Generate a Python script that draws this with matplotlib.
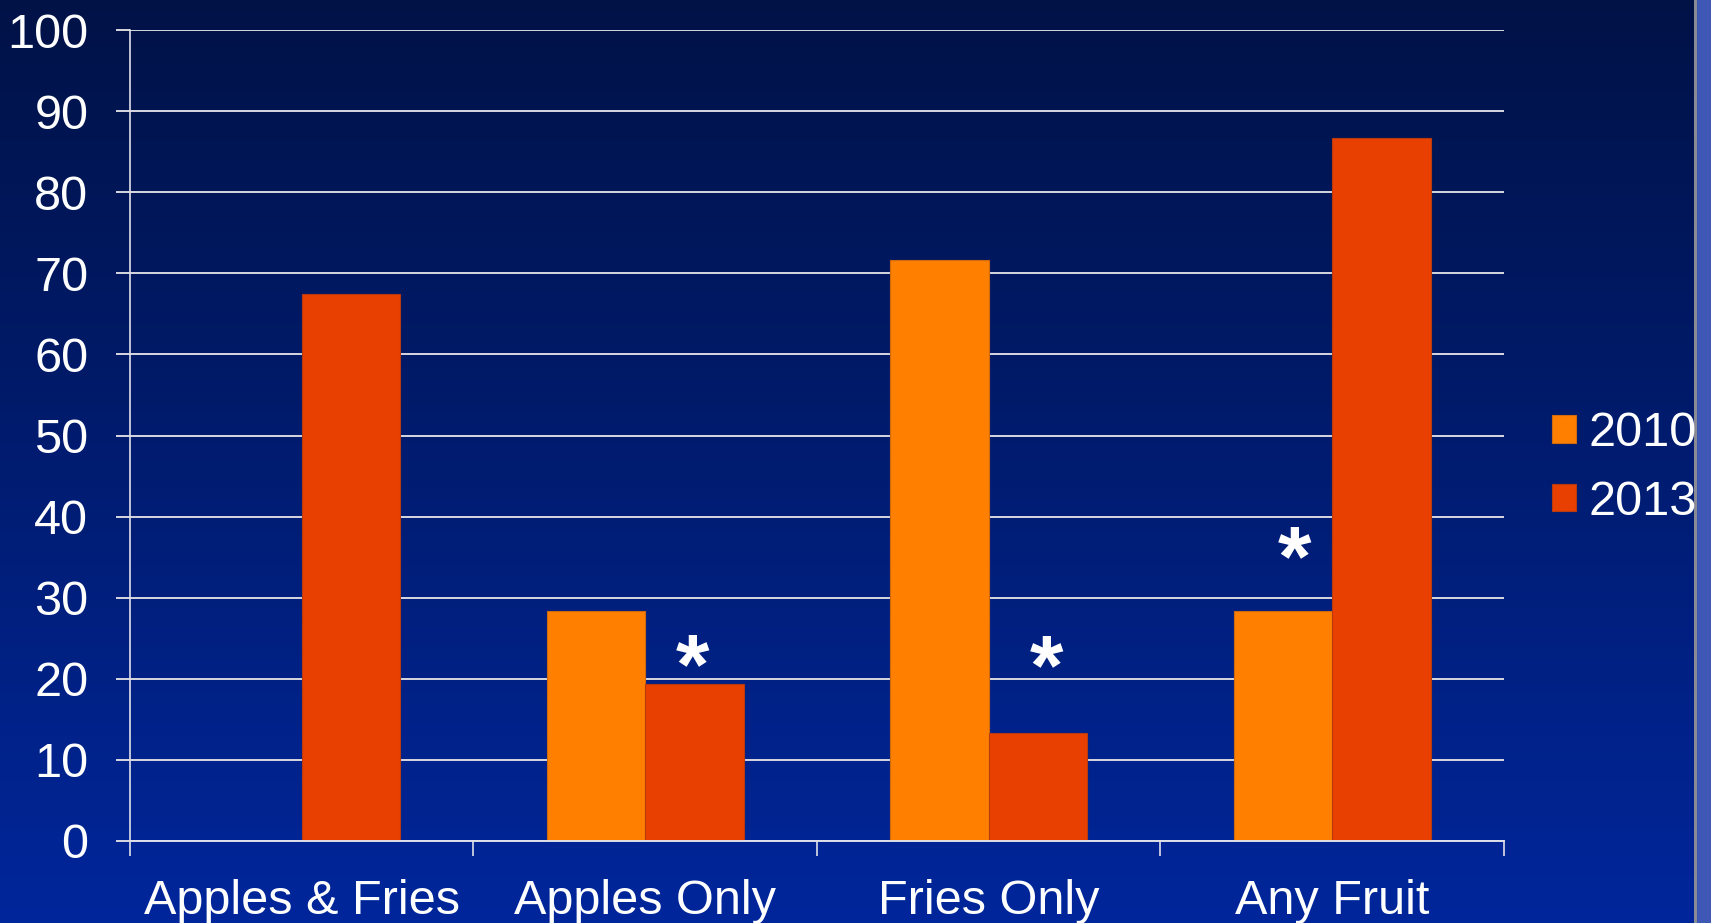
import matplotlib
matplotlib.use('Agg')
import matplotlib.pyplot as plt
from matplotlib.patches import Rectangle
import numpy as np

plt.rcParams['font.family'] = ['Liberation Sans', 'DejaVu Sans']

# Datos del gráfico
categorias = ['Apples & Fries', 'Apples Only', 'Fries Only', 'Any Fruit']
valores_2010 = [0, 28.3, 71.6, 28.4]
valores_2013 = [67.4, 19.3, 13.3, 86.7]
anios = ['2010', '2013']
marcas_y = [0, 10, 20, 30, 40, 50, 60, 70, 80, 90, 100]

# Asteriscos de significancia: (posición x en unidades de categoría, altura del centro)
asteriscos_x = [1.639, 2.667, 3.389]
asteriscos_y = [21.0, 20.8, 34.3]

color_2010 = '#FF8000'
color_2013 = '#E84000'
ancho = 0.2865

W, H = 1711, 923
fig = plt.figure(figsize=(W / 100, H / 100), dpi=100)

# Fondo con degradado azul
fondo = fig.add_axes([0, 0, 1, 1], zorder=-10)
grad = np.linspace(0, 1, 256)[:, None]
c_sup = np.array([0, 18, 70]) / 255
c_inf = np.array([0, 38, 155]) / 255
img = c_sup[None, None, :] * (1 - grad[:, :, None]) + c_inf[None, None, :] * grad[:, :, None]
fondo.imshow(img, aspect='auto', extent=[0, 1, 0, 1], origin='upper')
# franja lateral derecha
fondo.add_patch(Rectangle((1694 / W, 0), 3 / W, 1, color='#8a8a95', lw=0))
fondo.add_patch(Rectangle((1697 / W, 0), 14 / W, 1, color='#3f58b6', lw=0))
fondo.set_xlim(0, 1)
fondo.set_ylim(0, 1)
fondo.axis('off')

ax = fig.add_axes([130 / W, 82 / H, 1374 / W, 811 / H])
ax.set_facecolor('none')

x = np.arange(len(categorias)) + 0.5
ax.bar(x - ancho, valores_2010, width=ancho, align='edge', color=color_2010,
       edgecolor='#d06a10', linewidth=0.8, label=anios[0], zorder=3)
ax.bar(x, valores_2013, width=ancho, align='edge', color=color_2013,
       edgecolor='#b83a10', linewidth=0.8, label=anios[1], zorder=3)

ax.set_xlim(0, len(categorias))
ax.set_ylim(0, 100)
ax.set_yticks(marcas_y)
ax.grid(axis='y', color='#d8d8e0', linewidth=1.4, zorder=1)

# ticks en los límites de cada categoría, etiquetas al centro
ax.set_xticks(np.arange(len(categorias) + 1))
ax.set_xticklabels([])
ax.set_xticks(x, minor=True)
ax.set_xticklabels(categorias, minor=True)
ax.tick_params(axis='x', which='major', direction='out', length=11, width=1.2, color='#e0e0e8')
ax.tick_params(axis='x', which='minor', length=0, pad=27, labelsize=35, labelcolor='white')
ax.tick_params(axis='y', direction='out', length=10, width=1.4, color='#d8d8e0',
               pad=20, labelsize=35, labelcolor='white')

for lado in ['top', 'right']:
    ax.spines[lado].set_visible(False)
ax.spines['left'].set_color('#e0e0e8')
ax.spines['left'].set_linewidth(1.2)
ax.spines['bottom'].set_color('#e0e0e8')
ax.spines['bottom'].set_linewidth(1.4)
ax.spines['bottom'].set_zorder(4)

for xa, ya in zip(asteriscos_x, asteriscos_y):
    ax.text(xa, ya, '*', ha='center', va='center', fontsize=62, fontweight='bold',
            color='white', zorder=5)

fig.legend(loc='center left', bbox_to_anchor=(1552 / W, 1 - 468 / H), frameon=False,
           fontsize=35, labelcolor='white', handlelength=0.5, handleheight=0.5,
           handletextpad=0.25, labelspacing=0.48, borderpad=0, borderaxespad=0)

fig.savefig('out.png', dpi=100)
